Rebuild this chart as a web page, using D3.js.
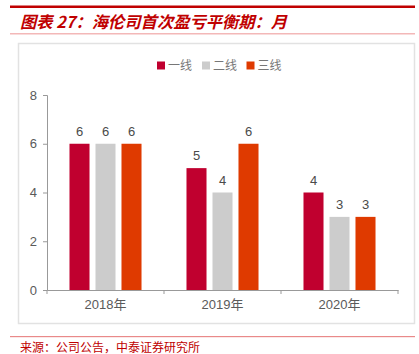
<!DOCTYPE html>
<html>
<head>
<meta charset="utf-8">
<script src="https://cdn.jsdelivr.net/npm/d3@7"></script>
<style>
  body { margin: 0; background: #fff; }
  text { font-family: "Liberation Sans", "Noto Sans CJK SC", sans-serif; }
</style>
</head>
<body>
<div id="chart"></div>
<script>
const WIDTH = 419, HEIGHT = 354;

var years = ["2018年", "2019年", "2020年"];
var series = ["一线", "二线", "三线"];
var tier1 = [6, 5, 4];
var tier2 = [6, 4, 3];
var tier3 = [6, 6, 3];
var yTicks = [0, 2, 4, 6, 8];
var colors = ["#c0002f", "#cccccc", "#df3a00"];

var values = [tier1, tier2, tier3];

var svg = d3.select("#chart").append("svg")
    .attr("width", WIDTH)
    .attr("height", HEIGHT);

// header / footer rules
svg.append("rect").attr("x", 10).attr("y", 5.5).attr("width", 405).attr("height", 2.5).attr("fill", "#c00000");
svg.append("rect").attr("x", 10).attr("y", 33).attr("width", 405).attr("height", 1.5).attr("fill", "#f3b8b8");
svg.append("text")
    .attr("x", 20).attr("y", 28)
    .attr("fill", "#c00000")
    .style("font-family", "'Noto Sans CJK SC', sans-serif")
    .style("font-size", "16.3px")
    .style("font-style", "italic")
    .style("font-weight", "bold")
    .text("图表 27：海伦司首次盈亏平衡期：月");

svg.append("rect")
    .attr("x", 18.5).attr("y", 43.5).attr("width", 396).attr("height", 280)
    .attr("fill", "none").attr("stroke", "#e2e2e2").attr("stroke-width", 1.5);

svg.append("rect").attr("x", 10).attr("y", 336).attr("width", 405).attr("height", 1.2).attr("fill", "#e98a8a");
svg.append("text")
    .attr("x", 20).attr("y", 352)
    .attr("fill", "#c00000")
    .style("font-family", "'Noto Sans CJK SC', sans-serif")
    .style("font-size", "12px")
    .text("来源：公司公告，中泰证券研究所");

// scales
var x = d3.scaleBand().domain(years).range([47, 398]);
var xInner = d3.scaleBand().domain(series).range([0, x.bandwidth()])
    .paddingInner(0.23).paddingOuter(0.865);
var y = d3.scaleLinear().domain([0, 8]).range([290, 95]);

// axes
var yAxis = svg.append("g")
    .attr("transform", "translate(47,0)")
    .call(d3.axisLeft(y).tickValues(yTicks).tickSize(4).tickPadding(6));
var xAxis = svg.append("g")
    .attr("transform", "translate(0,290)")
    .call(d3.axisBottom(x).tickSize(0).tickPadding(10));

[yAxis, xAxis].forEach(function (g) {
    g.select(".domain").attr("stroke", "#999");
    g.selectAll(".tick line").attr("stroke", "#999");
    g.selectAll(".tick text").attr("fill", "#5a5a5a").style("font-size", "13px");
});

// x ticks at band boundaries
svg.append("g").selectAll("line")
    .data(years.concat([null]))
    .enter().append("line")
    .attr("x1", function (d, i) { return x.range()[0] + i * x.step(); })
    .attr("x2", function (d, i) { return x.range()[0] + i * x.step(); })
    .attr("y1", 290).attr("y2", 294)
    .attr("stroke", "#999");

// bars
var groups = svg.append("g").selectAll("g")
    .data(years)
    .enter().append("g")
    .attr("transform", function (d) { return "translate(" + x(d) + ",0)"; });

groups.selectAll("rect")
    .data(function (d, i) { return series.map(function (s, j) { return { s: s, v: values[j][i], c: colors[j] }; }); })
    .enter().append("rect")
    .attr("x", function (d) { return xInner(d.s); })
    .attr("y", function (d) { return y(d.v); })
    .attr("width", xInner.bandwidth())
    .attr("height", function (d) { return y(0) - y(d.v); })
    .attr("fill", function (d) { return d.c; });

groups.selectAll("text")
    .data(function (d, i) { return series.map(function (s, j) { return { s: s, v: values[j][i] }; }); })
    .enter().append("text")
    .attr("x", function (d) { return xInner(d.s) + xInner.bandwidth() / 2; })
    .attr("y", function (d) { return y(d.v) - 8; })
    .attr("text-anchor", "middle")
    .attr("fill", "#4a4a4a")
    .style("font-size", "13px")
    .text(function (d) { return d.v; });

// legend
var legendX = [157, 202, 246.5];
var legend = svg.append("g").selectAll("g")
    .data(series)
    .enter().append("g")
    .attr("transform", function (d, i) { return "translate(" + legendX[i] + ",61.5)"; });
legend.append("rect").attr("width", 8).attr("height", 8)
    .attr("fill", function (d, i) { return colors[i]; });
legend.append("text")
    .attr("x", 11).attr("y", 8.5)
    .attr("fill", "#777")
    .style("font-family", "'Noto Sans CJK SC', sans-serif")
    .style("font-size", "12px")
    .text(function (d) { return d; });
</script>
</body>
</html>
